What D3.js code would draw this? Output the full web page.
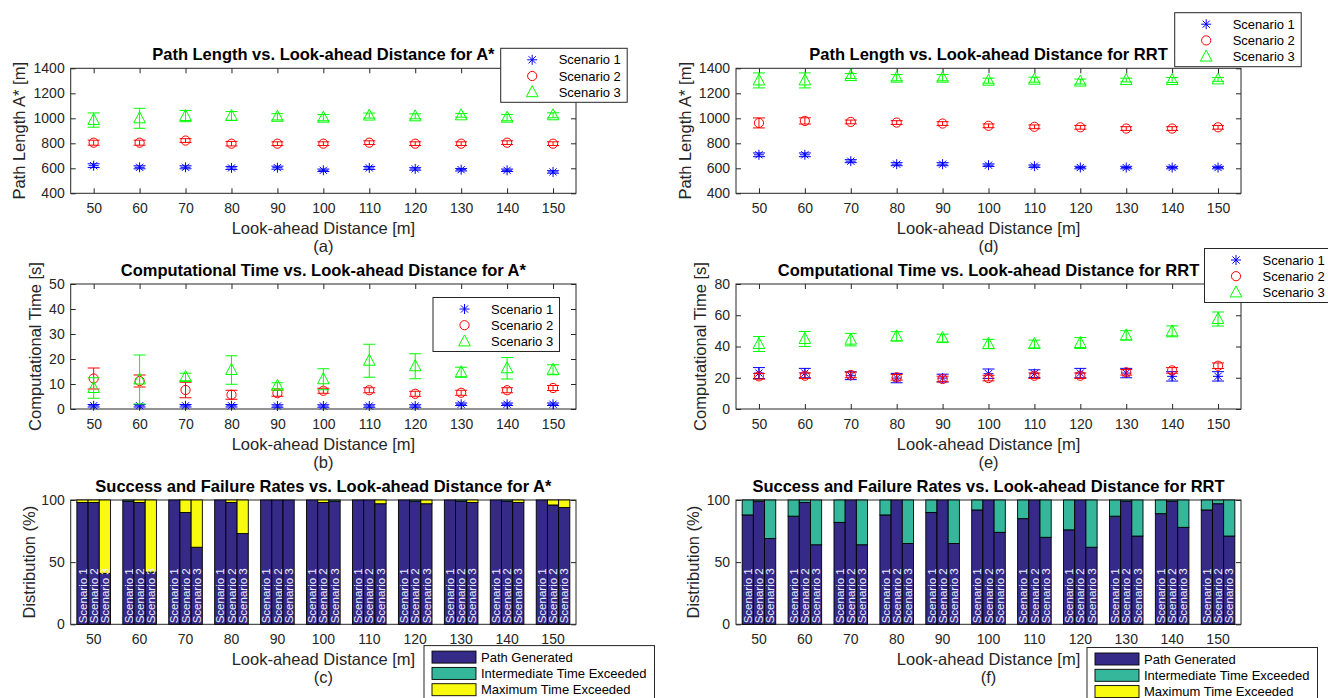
<!DOCTYPE html>
<html><head><meta charset="utf-8">
<script src="https://cdn.jsdelivr.net/npm/d3@7"></script>
<style>
body{margin:0;background:#fff}
svg{display:block}
text{font-family:"Liberation Sans",Arial,Helvetica,sans-serif}
</style>
</head><body>
<svg id="chart" width="1328" height="698"></svg>
<script>
// ---------------- DATA ----------------
const distances = [50, 60, 70, 80, 90, 100, 110, 120, 130, 140, 150];
const scenarioNames = ["Scenario 1", "Scenario 2", "Scenario 3"];
const outcomeNames = ["Path Generated", "Intermediate Time Exceeded", "Maximum Time Exceeded"];

const pathLengthTicks = [400, 600, 800, 1000, 1200, 1400];
const aStarTimeTicks = [0, 10, 20, 30, 40, 50];
const rrtTimeTicks = [0, 20, 40, 60, 80];
const distributionTicks = [0, 50, 100];

// (a) A* path length, per scenario
const aStarLength = [
  [621, 608, 608, 603, 605, 584, 603, 595, 589, 584, 571],
  [805, 805, 822, 797, 797, 797, 805, 797, 797, 805, 797],
  [986, 1000, 1018, 1019, 1012, 1005, 1022, 1016, 1024, 1005, 1024]
];
const aStarLengthErr = [
  [15, 12, 12, 12, 12, 10, 12, 10, 10, 10, 10],
  [20, 20, 15, 18, 15, 15, 15, 15, 15, 15, 15],
  [57, 80, 45, 35, 25, 25, 20, 20, 15, 25, 20]
];
// (d) RRT path length
const rrtLength = [
  [708, 708, 657, 633, 633, 625, 617, 606, 606, 606, 606],
  [963, 979, 971, 966, 958, 940, 932, 928, 918, 918, 928],
  [1303, 1303, 1338, 1325, 1325, 1301, 1309, 1294, 1306, 1306, 1311]
];
const rrtLengthErr = [
  [15, 15, 12, 12, 12, 10, 10, 10, 10, 10, 10],
  [40, 25, 15, 15, 15, 15, 15, 15, 15, 15, 15],
  [60, 60, 20, 25, 25, 20, 20, 20, 15, 20, 15]
];
// (b) A* computational time
const aStarTime = [
  [1.3, 1.3, 1.3, 1.3, 1.2, 1.2, 1.2, 1.2, 1.9, 1.9, 1.9],
  [12.2, 11.2, 7.6, 5.7, 6.3, 7.3, 7.5, 6.1, 6.5, 7.5, 8.4],
  [8.4, 11.8, 12.8, 15.6, 9.3, 11.9, 19.3, 17.1, 14.7, 16.3, 15.7]
];
const aStarTimeErr = [
  [0.5, 0.5, 0.5, 0.5, 0.5, 0.5, 0.5, 0.5, 0.5, 0.5, 0.5],
  [4.2, 2.4, 3.1, 1.8, 1.2, 1.0, 1.0, 1.0, 1.0, 1.0, 1.0],
  [4.1, 9.8, 1.5, 5.7, 1.2, 4.2, 6.6, 5.0, 2.0, 4.3, 2.0]
];
// (e) RRT computational time
const rrtTime = [
  [23.0, 23.0, 21.3, 19.8, 19.8, 22.6, 22.6, 23.0, 23.0, 20.9, 20.9],
  [20.9, 21.3, 21.8, 20.3, 19.2, 19.8, 21.3, 21.3, 23.5, 24.7, 27.7],
  [41.6, 44.8, 44.4, 46.5, 45.4, 41.6, 41.6, 42.2, 47.1, 49.7, 57.6]
];
const rrtTimeErr = [
  [3.5, 3.0, 2.5, 3.0, 2.5, 3.0, 2.5, 3.0, 3.0, 3.0, 3.0],
  [1.8, 1.8, 1.8, 1.8, 1.8, 1.8, 1.8, 1.8, 1.8, 1.8, 1.8],
  [4.8, 4.8, 4.0, 3.0, 2.5, 3.0, 2.5, 3.5, 3.0, 3.5, 4.5]
];
// (c) A* outcome distribution (%)
const aStarGenerated = [
  [98, 99, 100, 100, 100, 100, 100, 100, 100, 100, 100],
  [98, 98, 90, 98, 100, 98, 100, 99, 99, 99, 96],
  [41, 42, 62, 73, 100, 99, 97, 97, 98, 98, 94]
];
const aStarIntermediate = [
  [0, 1, 0, 0, 0, 0, 0, 0, 0, 0, 0],
  [0, 0, 0, 0, 0, 0, 0, 1, 1, 1, 0],
  [0, 0, 0, 0, 0, 1, 0, 0, 0, 0, 0]
];
const aStarMaximum = [
  [2, 0, 0, 0, 0, 0, 0, 0, 0, 0, 0],
  [2, 2, 10, 2, 0, 2, 0, 0, 0, 0, 4],
  [59, 58, 38, 27, 0, 0, 3, 3, 2, 2, 6]
];
// (f) RRT outcome distribution (%)
const rrtGenerated = [
  [88, 87, 82, 88, 90, 92, 85, 76, 87, 89, 92],
  [99, 98, 100, 100, 100, 100, 100, 100, 99, 99, 97],
  [69, 64, 64, 65, 65, 74, 70, 62, 71, 78, 71]
];
const rrtIntermediate = [
  [12, 13, 18, 12, 10, 8, 15, 24, 13, 11, 8],
  [1, 2, 0, 0, 0, 0, 0, 0, 1, 1, 3],
  [31, 36, 36, 35, 35, 26, 30, 38, 29, 22, 29]
];
const rrtMaximum = [
  [0, 0, 0, 0, 0, 0, 0, 0, 0, 0, 0],
  [0, 0, 0, 0, 0, 0, 0, 0, 0, 0, 0],
  [0, 0, 0, 0, 0, 0, 0, 0, 0, 0, 0]
];

// ---------------- STYLE ----------------
const FONT = '"Liberation Sans",Arial,Helvetica,sans-serif';
const AX = "#262626";
const markerColors = ["#0000ff", "#ff0000", "#00ff00"];
const barColors = ["#352a87", "#35b79c", "#f9fb0e"];
const fmt = d3.format("d");

const svg = d3.select("#chart");

function axes(g, x, y, o, xTicks, isBand) {
  const bottom = isBand ? d3.axisBottom(x) : d3.axisBottom(x).tickValues(xTicks).tickFormat(fmt);
  const top = isBand ? d3.axisTop(x) : d3.axisTop(x).tickValues(xTicks);
  const st = s => s.attr("font-size", 14).attr("font-family", FONT).style("color", AX)
    .call(q => q.select(".domain").remove());
  g.append("g").attr("transform", `translate(0,${o.B})`)
    .call(bottom.tickSize(-5).tickSizeOuter(0).tickPadding(10)).call(st);
  g.append("g").attr("transform", `translate(0,${o.T})`)
    .call(top.tickSize(-5).tickSizeOuter(0).tickFormat("")).call(st);
  g.append("g").attr("transform", `translate(${o.L},0)`)
    .call(d3.axisLeft(y).tickValues(o.yTicks).tickFormat(fmt).tickSize(-5).tickSizeOuter(0).tickPadding(6)).call(st);
  g.append("g").attr("transform", `translate(${o.R},0)`)
    .call(d3.axisRight(y).tickValues(o.yTicks).tickSize(-5).tickSizeOuter(0).tickFormat("")).call(st);
  g.append("rect").attr("x", o.L).attr("y", o.T).attr("width", o.R - o.L).attr("height", o.B - o.T)
    .attr("fill", "none").attr("stroke", AX).attr("stroke-width", 1);
}

function labels(g, o) {
  const cx = (o.L + o.R) / 2;
  g.append("text").attr("x", cx).attr("y", o.T - 14).attr("dy", "0.35em")
    .attr("text-anchor", "middle").attr("font-size", 16.5).attr("font-weight", "bold")
    .attr("fill", "#000").text(o.title);
  g.append("text").attr("x", cx).attr("y", o.B + 35).attr("dy", "0.35em")
    .attr("text-anchor", "middle").attr("font-size", 16.5).attr("fill", AX)
    .text("Look-ahead Distance [m]");
  g.append("text").attr("x", cx).attr("y", o.B + 53).attr("dy", "0.35em")
    .attr("text-anchor", "middle").attr("font-size", 16.5).attr("fill", AX)
    .text(o.sub);
  g.append("text").attr("transform", `translate(${o.ylx},${(o.T + o.B) / 2}) rotate(-90)`)
    .attr("dy", "0.35em").attr("text-anchor", "middle").attr("font-size", 16.5).attr("fill", AX)
    .text(o.ylabel);
}

function marker(g, s, cx, cy) {
  if (s === 0) {
    const r = 5, d = 3.6;
    g.append("path").attr("d",
      `M${cx - r},${cy}H${cx + r}M${cx},${cy - r}V${cy + r}` +
      `M${cx - d},${cy - d}L${cx + d},${cy + d}M${cx - d},${cy + d}L${cx + d},${cy - d}`);
  } else if (s === 1) {
    g.append("circle").attr("cx", cx).attr("cy", cy).attr("r", 4.6);
  } else {
    g.append("path").attr("d", `M${cx},${cy - 6.5}L${cx + 5.8},${cy + 4.5}L${cx - 5.8},${cy + 4.5}Z`);
  }
}

function scatterPanel(o) {
  const g = svg.append("g");
  const x = d3.scaleLinear().domain([45, 155]).range([o.L, o.R]);
  const y = d3.scaleLinear().domain(o.yDomain).range([o.B, o.T]);
  axes(g, x, y, o, distances, false);
  o.values.forEach((vals, s) => {
    const sg = g.append("g").attr("stroke", markerColors[s]).attr("fill", "none").attr("stroke-width", 1);
    vals.forEach((v, i) => {
      const cx = x(distances[i]), e = o.errors[s][i];
      const y1 = y(v - e), y2 = y(v + e);
      sg.append("path").attr("d", `M${cx},${y1}V${y2}M${cx - 6},${y1}h12M${cx - 6},${y2}h12`);
      marker(sg, s, cx, y(v));
    });
  });
  labels(g, o);
  const L = o.legend;
  const lg = svg.append("g");
  lg.append("rect").attr("x", L.x).attr("y", L.y).attr("width", 126.5).attr("height", 54)
    .attr("fill", "#fff").attr("stroke", AX).attr("stroke-width", 1);
  scenarioNames.forEach((name, s) => {
    const ry = L.y + 11.5 + s * 16.2;
    const mg = lg.append("g").attr("stroke", markerColors[s]).attr("fill", "none").attr("stroke-width", 1);
    marker(mg, s, L.x + 31.5, ry);
    lg.append("text").attr("x", L.x + 58).attr("y", ry).attr("dy", "0.35em")
      .attr("font-size", 13).attr("fill", "#000").text(name);
  });
}

function barPanel(o) {
  const g = svg.append("g");
  const x = d3.scaleBand().domain(distances).range([o.L, o.R]).paddingInner(0).paddingOuter(0);
  const y = d3.scaleLinear().domain([0, 100]).range([o.B, o.T]);
  axes(g, x, y, o, distances, true);
  const bw = x.bandwidth() * 0.2438;
  const inner = d3.scaleBand().domain([0, 1, 2]).range([-1.5 * bw, 1.5 * bw]);
  const bg = g.append("g");
  distances.forEach((d, i) => {
    [0, 1, 2].forEach(s => {
      const x0 = x(d) + x.bandwidth() / 2 + inner(s);
      const segs = [o.gen[s][i], o.inter[s][i], o.max[s][i]];
      let acc = 0;
      segs.forEach((v, k) => {
        if (v > 0) {
          bg.append("rect").attr("x", x0).attr("width", bw)
            .attr("y", y(acc + v)).attr("height", y(acc) - y(acc + v))
            .attr("fill", barColors[k]).attr("stroke", "#000").attr("stroke-width", 0.9);
        }
        acc += v;
      });
      bg.append("text")
        .attr("transform", `translate(${x0 + bw / 2},${o.B - 1}) rotate(-90)`)
        .attr("dy", "0.36em").attr("font-size", 11.5).attr("fill", "#eeeeff")
        .text(scenarioNames[s]);
    });
  });
  labels(g, o);
  const L = o.legend;
  const lg = svg.append("g");
  lg.append("rect").attr("x", L.x).attr("y", L.y).attr("width", 230.5).attr("height", 70)
    .attr("fill", "#fff").attr("stroke", AX).attr("stroke-width", 1);
  outcomeNames.forEach((name, k) => {
    const ry = L.y + 11.5 + k * 16.3;
    lg.append("rect").attr("x", L.x + 8).attr("y", ry - 6).attr("width", 44).attr("height", 12)
      .attr("fill", barColors[k]).attr("stroke", "#000").attr("stroke-width", 0.9);
    lg.append("text").attr("x", L.x + 57).attr("y", ry).attr("dy", "0.35em")
      .attr("font-size", 13).attr("fill", "#000").text(name);
  });
}

const LEFT = { L: 70.7, R: 576 };
const RIGHT = { L: 736, R: 1241 };

scatterPanel(Object.assign({}, LEFT, {
  T: 68.3, B: 193.3, yDomain: [400, 1400], yTicks: pathLengthTicks,
  values: aStarLength, errors: aStarLengthErr,
  title: "Path Length vs. Look-ahead Distance for A*", ylabel: "Path Length A* [m]", sub: "(a)",
  ylx: 19.5, legend: { x: 500.7, y: 48.3 }
}));
scatterPanel(Object.assign({}, RIGHT, {
  T: 68.3, B: 193.3, yDomain: [400, 1400], yTicks: pathLengthTicks,
  values: rrtLength, errors: rrtLengthErr,
  title: "Path Length vs. Look-ahead Distance for RRT", ylabel: "Path Length A* [m]", sub: "(d)",
  ylx: 685, legend: { x: 1174.7, y: 12.7 }
}));
scatterPanel(Object.assign({}, LEFT, {
  T: 284, B: 409, yDomain: [0, 50], yTicks: aStarTimeTicks,
  values: aStarTime, errors: aStarTimeErr,
  title: "Computational Time vs. Look-ahead Distance for A*", ylabel: "Computational Time [s]", sub: "(b)",
  ylx: 35, legend: { x: 433, y: 297.5 }
}));
scatterPanel(Object.assign({}, RIGHT, {
  T: 284, B: 409, yDomain: [0, 80], yTicks: rrtTimeTicks,
  values: rrtTime, errors: rrtTimeErr,
  title: "Computational Time vs. Look-ahead Distance for RRT", ylabel: "Computational Time [s]", sub: "(e)",
  ylx: 700, legend: { x: 1204.5, y: 248.5 }
}));
barPanel(Object.assign({}, LEFT, {
  T: 500, B: 624.3, yTicks: distributionTicks,
  gen: aStarGenerated, inter: aStarIntermediate, max: aStarMaximum,
  title: "Success and Failure Rates vs. Look-ahead Distance for A*", ylabel: "Distribution (%)", sub: "(c)",
  ylx: 29, legend: { x: 424, y: 645.6 }
}));
barPanel(Object.assign({}, RIGHT, {
  T: 500, B: 624.3, yTicks: distributionTicks,
  gen: rrtGenerated, inter: rrtIntermediate, max: rrtMaximum,
  title: "Success and Failure Rates vs. Look-ahead Distance for RRT", ylabel: "Distribution (%)", sub: "(f)",
  ylx: 693, legend: { x: 1087, y: 647.5 }
}));
</script>
</body></html>
